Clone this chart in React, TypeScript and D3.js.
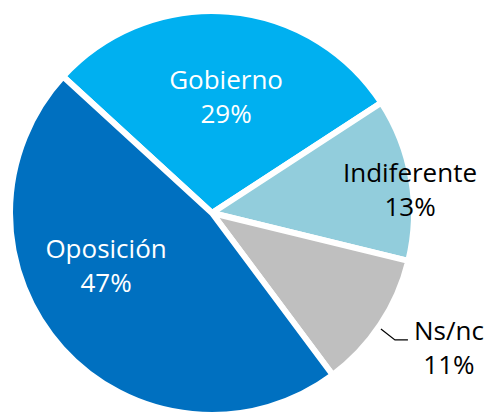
import * as d3 from 'd3';
import React, { useRef, useEffect } from 'react';

const categories = ['Gobierno', 'Indiferente', 'Ns/nc', 'Oposición'];
const shares = [29, 13, 11, 47];
const colors = ['#00b0f0', '#92cddc', '#bfbfbf', '#0070c0'];
const textColors = ['#ffffff', '#000000', '#000000', '#ffffff'];
// label placement: polar angle (deg) and radius fraction
const labelAngles = [6.8, 82.8, 119.3, 244.3];
const labelRadii = [0.588, 0.988, 1.345, 0.582];

export default function App() {
  const ref = useRef<SVGSVGElement>(null);

  useEffect(() => {
    const svg = d3.select(ref.current);
    svg.selectAll('*').remove();

    const width = 489;
    const height = 413;
    const cx = 212;
    const cy = 213;
    const r = 202;

    const data = categories.map((c, i) => ({ name: c, value: shares[i], i }));

    const pie = d3.pie<any>()
      .sort(null)
      .value(d => d.value)
      .startAngle(-47.5 * Math.PI / 180)
      .endAngle((360 - 47.5) * Math.PI / 180);

    const arc = d3.arc<any>().innerRadius(0).outerRadius(r);

    const g = svg.append('g').attr('transform', `translate(${cx},${cy})`);

    g.selectAll('path')
      .data(pie(data))
      .join('path')
      .attr('d', arc)
      .attr('fill', d => colors[d.data.i])
      .attr('stroke', '#fff')
      .attr('stroke-width', 6)
      .attr('stroke-linejoin', 'round');

    const labels = g.selectAll('text')
      .data(data)
      .join('text')
      .attr('transform', d => {
        const a = labelAngles[d.i] * Math.PI / 180;
        const rr = labelRadii[d.i] * r;
        return `translate(${Math.sin(a) * rr},${-Math.cos(a) * rr})`;
      })
      .attr('text-anchor', 'middle')
      .attr('font-family', 'Open Sans, sans-serif')
      .attr('font-size', 26)
      .attr('fill', d => textColors[d.i]);

    labels.append('tspan')
      .attr('x', 0)
      .attr('y', -6)
      .text(d => d.name);
    labels.append('tspan')
      .attr('x', 0)
      .attr('y', 28)
      .text(d => `${d.value}%`);

    // leader line for Ns/nc
    const nsIdx = categories.indexOf('Ns/nc');
    const a = labelAngles[nsIdx] * Math.PI / 180;
    const rr = labelRadii[nsIdx] * r;
    const lx = Math.sin(a) * rr;
    const ly = -Math.cos(a) * rr;
    g.append('path')
      .attr('d', `M${lx - 68},${ly - 17}L${lx - 54},${ly - 6}L${lx - 41},${ly - 6}`)
      .attr('fill', 'none')
      .attr('stroke', '#000')
      .attr('stroke-width', 1.2);

    svg.attr('width', width).attr('height', height);
  }, []);

  return (
    <svg
      ref={ref}
      width={489}
      height={413}
      style={{ position: 'absolute', left: 0, top: 0, background: '#fff' }}
    />
  );
}
